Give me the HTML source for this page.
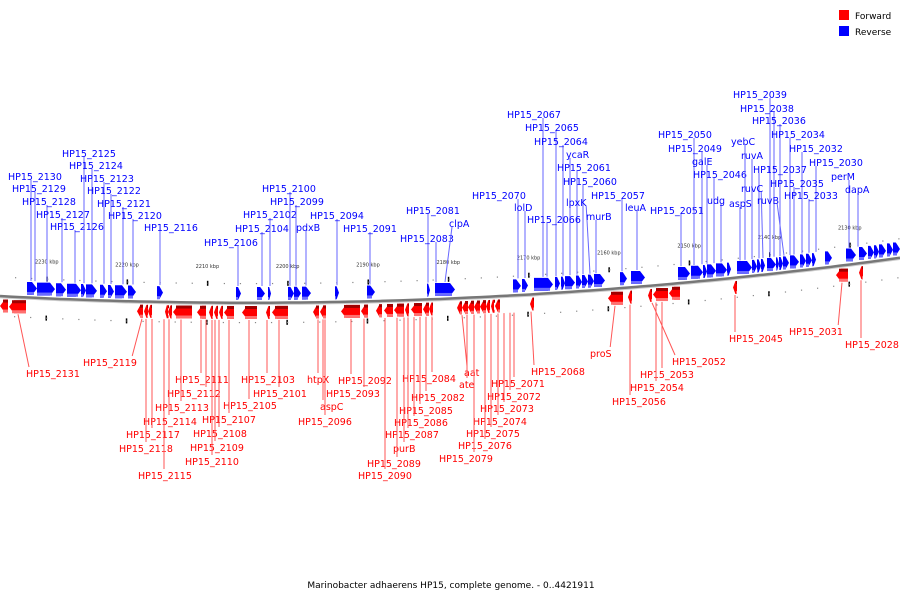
<!DOCTYPE html>
<html><head><meta charset="utf-8">
<style>
html,body{margin:0;padding:0;background:#fff;}
svg{display:block;font-family:"DejaVu Sans","Liberation Sans",sans-serif;}
</style></head>
<body>
<svg id="chart" width="900" height="600" viewBox="0 0 900 600" xmlns="http://www.w3.org/2000/svg">
<g id="ticks"></g>
<g id="backbone"></g>
<g id="genes"></g>
<g id="labels"></g>
<g>
<rect x="839" y="10" width="10" height="10" fill="#ff0000"/>
<text x="855" y="19" font-size="9" fill="#000">Forward</text>
<rect x="839" y="26" width="10" height="10" fill="#0000ff"/>
<text x="855" y="35" font-size="9" fill="#000">Reverse</text>
</g>
<text x="451" y="588" font-size="9" text-anchor="middle" fill="#000">Marinobacter adhaerens HP15, complete genome. - 0..4421911</text>
</svg>
<script>
const reverseGenes = [[27,37],[37,55],[56,66],[67,81],[81,86],[86,97],[100,107],[108,114],[115,127],[128,136],[157,163],[236,241],[257,265],[268,271],[288,294],[294,301],[302,311],[335,339],[367,375],[427,430],[435,455],[513,521],[522,528],[534,553],[555,560],[561,565],[565,575],[576,582],[582,588],[588,594],[594,605],[620,627],[631,645],[678,690],[691,703],[703,707],[707,716],[716,727],[727,731],[737,752],[752,757],[757,761],[761,765],[767,776],[776,779],[779,783],[783,789],[790,799],[800,806],[806,812],[812,816],[825,832],[846,856],[859,867],[868,874],[874,879],[879,886],[887,893],[893,900]];
const forwardGenes = [[0,8],[9,26],[137,143],[144,148],[148,152],[165,168],[168,172],[173,192],[197,206],[209,213],[214,218],[219,223],[224,234],[242,257],[266,270],[272,288],[313,319],[320,326],[341,360],[361,368],[376,382],[384,393],[394,404],[405,409],[411,422],[423,429],[429,433],[457,462],[462,468],[468,474],[474,480],[480,486],[486,490],[491,494],[495,500],[530,534],[608,623],[628,632],[648,652],[653,668],[669,680],[733,737],[836,848],[859,863]];
const reverseLabels = [["HP15_2130",31,8,176],["HP15_2129",35,12,188],["HP15_2128",47,22,201],["HP15_2127",62,36,214],["HP15_2126",75,50,226],["HP15_2125",84,62,153],["HP15_2124",92,69,165],["HP15_2123",104,80,178],["HP15_2122",111,87,190],["HP15_2121",123,97,203],["HP15_2120",133,108,215],["HP15_2116",160,144,227],["HP15_2106",238,204,242],["HP15_2104",262,235,228],["HP15_2102",270,243,214],["HP15_2100",290,262,188],["HP15_2099",296,270,201],["pdxB",306,296,227],["HP15_2094",337,310,215],["HP15_2091",370,343,228],["HP15_2081",428,406,210],["HP15_2083",436,400,238],["clpA",445,449,223],["HP15_2070",518,472,195],["lolD",525,514,207],["HP15_2067",543,507,114],["HP15_2065",556,525,127],["HP15_2064",563,534,141],["ycaR",570,566,154],["HP15_2061",577,557,167],["HP15_2060",583,563,181],["lpxK",590,566,202],["murB",596,586,216],["HP15_2066",547,527,219],["HP15_2057",622,591,195],["leuA",637,625,207],["HP15_2051",681,650,210],["HP15_2050",694,658,134],["HP15_2049",702,668,148],["galE",707,692,161],["HP15_2046",714,693,174],["udg",721,707,200],["yebC",745,731,141],["ruvA",752,741,155],["HP15_2039",770,733,94],["HP15_2038",774,740,108],["HP15_2036",780,752,120],["HP15_2034",790,771,134],["HP15_2032",802,789,148],["HP15_2030",816,809,162],["HP15_2037",759,753,169],["ruvC",763,741,188],["aspS",740,729,203],["ruvB",784,757,200],["HP15_2035",794,770,183],["HP15_2033",809,784,195],["perM",849,831,176],["dapA",858,845,189]];
const forwardLabels = [["HP15_2131",18,26,373],["HP15_2119",142,83,362],["HP15_2111",201,175,379],["HP15_2112",206,167,393],["HP15_2113",181,155,407],["HP15_2114",169,143,421],["HP15_2117",152,126,434],["HP15_2118",146,119,448],["HP15_2115",164,138,475],["HP15_2103",267,241,379],["HP15_2101",279,253,393],["HP15_2105",249,223,405],["HP15_2107",229,202,419],["HP15_2108",219,193,433],["HP15_2109",215,190,447],["HP15_2110",212,185,461],["htpX",318,307,379],["aspC",323,320,406],["HP15_2096",325,298,421],["HP15_2092",351,338,380],["HP15_2093",364,326,393],["HP15_2084",432,402,378],["HP15_2082",426,411,397],["HP15_2085",420,399,410],["HP15_2086",414,394,422],["HP15_2087",408,385,434],["purB",404,393,448],["HP15_2089",397,367,463],["HP15_2090",385,358,475],["aat",462,464,372],["ate",467,459,384],["HP15_2071",514,491,383],["HP15_2072",510,487,396],["HP15_2073",504,480,408],["HP15_2074",498,473,421],["HP15_2075",491,466,433],["HP15_2076",485,458,445],["HP15_2079",474,439,458],["HP15_2068",531,531,371],["proS",615,590,353],["HP15_2052",652,672,361],["HP15_2053",662,640,374],["HP15_2054",656,630,387],["HP15_2056",630,612,401],["HP15_2045",735,729,338],["HP15_2031",842,789,331],["HP15_2028",861,845,344]];
const scaleLabels = ["2230 kbp","2220 kbp","2210 kbp","2200 kbp","2190 kbp","2180 kbp","2170 kbp","2160 kbp","2150 kbp","2140 kbp","2130 kbp"];

const NS="http://www.w3.org/2000/svg";
function base(x){return 303-1.065e-4*(x-250)*(x-250);}
function mk(tag,attrs,parent){const e=document.createElementNS(NS,tag);for(const k in attrs)e.setAttribute(k,attrs[k]);parent.appendChild(e);return e;}
const gT=document.getElementById('ticks'),gB=document.getElementById('backbone'),gG=document.getElementById('genes'),gL=document.getElementById('labels');

let d="";for(let x=0;x<=900;x+=10){d+=(x?"L":"M")+x+","+base(x).toFixed(1);}
const bb=mk('path',{d:d,fill:'none',stroke:'#777','stroke-width':3},gB);


const bb2=mk('path',{d:d,fill:'none',stroke:'#ccc','stroke-width':1,transform:'translate(0,1.5)'},gB);



const x0=47,step=80.3;
scaleLabels.forEach((s,i)=>{
  const x=x0+i*step,y=base(x);
  const m=mk('rect',{x:x-0.7,y:y-22,width:1.5,height:5,fill:'#000'},gT);
  
  
  const m2=mk('rect',{x:x-1.5,y:y+17,width:1.5,height:5,fill:'#000'},gT);
  
  
  const t=mk('text',{x:x-12,y:y-35,'font-size':5,fill:'#333'},gT);t.textContent=s;
  
  
});
for(let x=15;x<900;x+=16.06){
  const y=base(x);
  const a=mk('rect',{x:x,y:y-20,width:1.2,height:1.2,fill:'#888'},gT);
  
  
  const b=mk('rect',{x:x-1,y:y+19,width:1.2,height:1.2,fill:'#888'},gT);
  
  
}

function arrow(s,e,dir,top,h){
  const w=e-s,hl=Math.min(5,w*0.6);
  if(dir>0)return `M${s},${top}L${e-hl},${top}L${e},${top+h/2}L${e-hl},${top+h}L${s},${top+h}Z`;
  return `M${e},${top}L${s+hl},${top}L${s},${top+h/2}L${s+hl},${top+h}L${e},${top+h}Z`;
}
reverseGenes.forEach(g=>{
  const y=base((g[0]+g[1])/2);
  const p=mk('path',{d:arrow(g[0],g[1],1,y-16,13),fill:'#0000ff'},gG);
  
  
  const p2=mk('rect',{x:g[0],y:y-6,width:Math.max(1,g[1]-g[0]-3),height:3,fill:'#6a6aff'},gG);
  
  
});
forwardGenes.forEach(g=>{
  const y=base((g[0]+g[1])/2);
  const p=mk('path',{d:arrow(g[0],g[1],-1,y+3,13),fill:'#ff0000'},gG);
  
  
  const p1=mk('rect',{x:g[0]+3,y:y+3,width:Math.max(1,g[1]-g[0]-3),height:3,fill:'#a00000'},gG);
  
  
  const p2=mk('rect',{x:g[0]+3,y:y+13,width:Math.max(1,g[1]-g[0]-3),height:3,fill:'#ff7070'},gG);
  
  
});

function textW(s){return s.length*5.8;}
reverseLabels.forEach(l=>{
  const [name,ax,tx,ty]=l;
  const ln=mk('line',{x1:ax,y1:base(ax)-17,x2:Math.min(Math.max(ax,tx+3),tx+textW(name)-3),y2:ty+4,stroke:'#6666ff','stroke-width':1},gL);
  
  
  const t=mk('text',{x:tx,y:ty+4,'font-size':9.5,fill:'#0000ff'},gL);t.textContent=name;
  
  
});
forwardLabels.forEach(l=>{
  const [name,ax,tx,ty]=l;
  const lx=Math.min(Math.max(ax,tx+3),tx+textW(name)-3);
  const ln=mk('line',{x1:ax,y1:base(ax)+17,x2:lx,y2:ty-6,stroke:'#ff5555','stroke-width':1},gL);
  
  
  const t=mk('text',{x:tx,y:ty+4,'font-size':9.5,fill:'#ff0000'},gL);t.textContent=name;
  
  
});
</script>
</body></html>
